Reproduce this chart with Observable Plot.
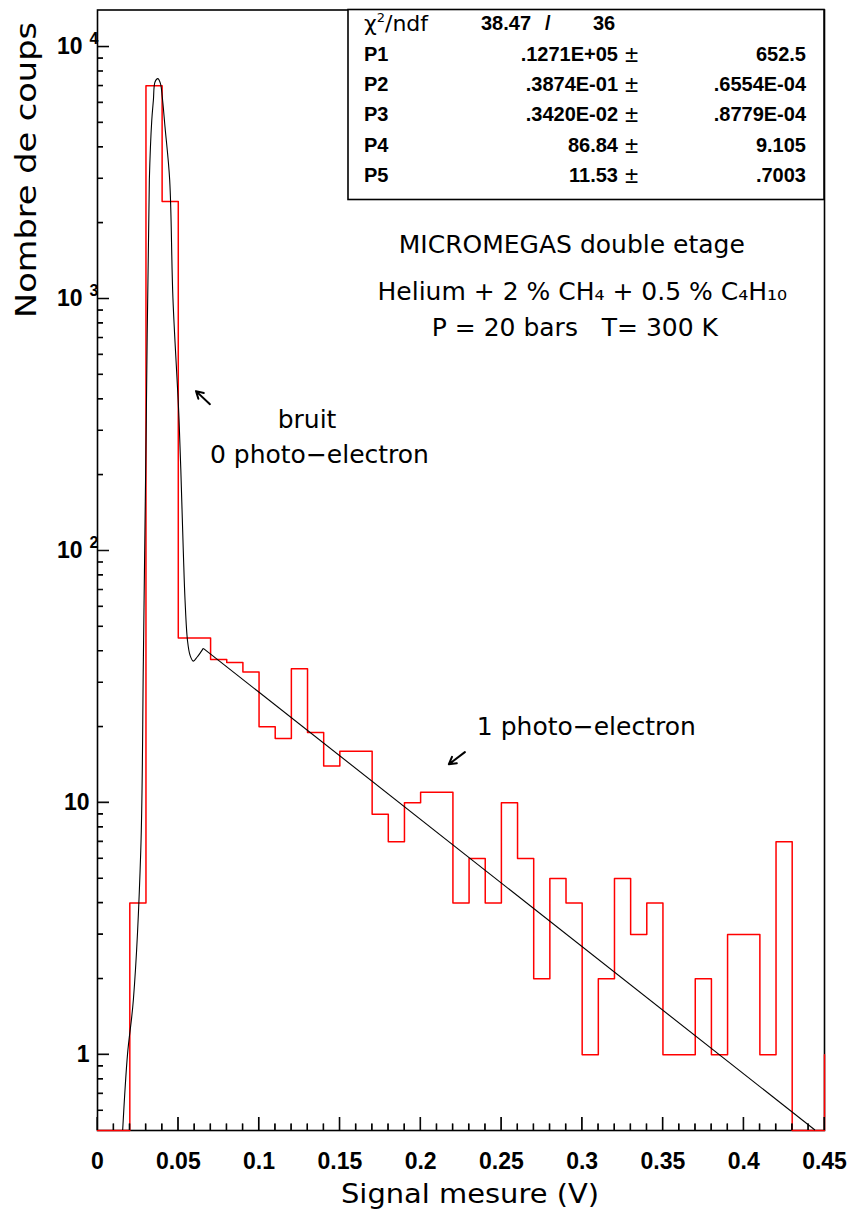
<!DOCTYPE html>
<html><head><meta charset="utf-8">
<script src="https://cdn.jsdelivr.net/npm/d3@7"></script>
<script src="https://cdn.jsdelivr.net/npm/@observablehq/plot@0.6"></script>
<style>body{margin:0;background:#fff} svg{display:block}</style>
</head><body><div id="chart"></div>
<script>
// ---- data ----
const binLow = [0.00,0.01,0.02,0.03,0.04,0.05,0.06,0.07,0.08,0.09,
                0.10,0.11,0.12,0.13,0.14,0.15,0.16,0.17,0.18,0.19,
                0.20,0.21,0.22,0.23,0.24,0.25,0.26,0.27,0.28,0.29,
                0.30,0.31,0.32,0.33,0.34,0.35,0.36,0.37,0.38,0.39,
                0.40,0.41,0.42,0.43,0.44,0.45];
const counts = [0,0,4,7000,2430,45,45,37,36,33,
                20,18,34,19,14,16,16,9,7,10,
                11,11,4,6,4,10,6,2,5,4,
                1,2,5,3,4,1,1,2,1,3,
                3,1,7,0,0,1];
// fitted curve, points
const fitX = [0.0159,0.0189,0.0225,0.0271,0.0287,0.0305,0.0324,0.0339,0.0349,0.0359,0.0376,0.0392,0.0404,0.0421,0.0450,0.0470,0.0508,0.0534,0.0545,0.0560,0.0576,0.0596,0.0619,0.0658,0.4444];
const fitY = [0.5,1.0,1.64,6.45,36.6,328,2940,5085,6106,7215,7442,7148,6293,4784,2940,1000,328,100,63.3,43.9,38.3,36.3,37.6,40.8,0.5];
// axis ticks
const xMajor = [0,0.05,0.1,0.15,0.2,0.25,0.3,0.35,0.4,0.45];
const xMinor = [0.01,0.02,0.03,0.04,0.06,0.07,0.08,0.09,0.11,0.12,0.13,0.14,0.16,0.17,0.18,0.19,0.21,0.22,0.23,0.24,0.26,0.27,0.28,0.29,0.31,0.32,0.33,0.34,0.36,0.37,0.38,0.39,0.41,0.42,0.43,0.44];
const yMajor = [1,10,100,1000,10000];
const yMinor = [0.6,0.7,0.8,0.9,2,3,4,5,6,7,8,9,20,30,40,50,60,70,80,90,200,300,400,500,600,700,800,900,2000,3000,4000,5000,6000,7000,8000,9000];
const yDomain = [0.5, 14000];
// annotations
const annoText = ["MICROMEGAS double etage","Helium + 2 % CH₄ + 0.5 % C₄H₁₀","P = 20 bars   T= 300 K","bruit","0 photo−electron","1 photo−electron"];
const annoX = [0.2939,0.3004,0.2958,0.130,0.1377,0.3029];
const annoY = [1623,1056,760,328,238,19.85];
const arrowX1 = [0.0699,0.2277], arrowY1 = [380,15.8];
const arrowX2 = [0.0613,0.2178], arrowY2 = [428,14.15];
// fit statistics
const chi2 = "38.47", ndf = "36";
const statLabels = ["P1","P2","P3","P4","P5"];
const statValues = [".1271E+05",".3874E-01",".3420E-02","86.84","11.53"];
const statErrors = ["652.5",".6554E-04",".8779E-04","9.105",".7003"];

// ---- build ----
const hist = binLow.map((x,i)=>({x, y: Math.max(counts[i], yDomain[0])}));
const tickFont = {fontFamily:"Liberation Sans, Arial, sans-serif", fontWeight:"bold", fontSize:23};

const svg = Plot.plot({
  width: 850, height: 1213,
  marginLeft: 97, marginRight: 26, marginTop: 9.5, marginBottom: 83,
  style: {background:"white", fontFamily:"Liberation Sans, Arial, sans-serif"},
  x: {domain:[0,0.45], label:null},
  y: {type:"log", domain:yDomain, label:null},
  marks: [
    Plot.frame({stroke:"black", strokeWidth:1.6}),
    Plot.line(hist, {x:"x", y:"y", curve:"step-after", stroke:"#ff0000", strokeWidth:1.5}),
    Plot.axisX({ticks:xMinor, tickSize:-6.5, stroke:"black", tickFormat:()=>"", label:null}),
    Plot.axisX({ticks:xMajor, tickSize:-13, stroke:"black", tickPadding:35, tickFormat:d=>String(d), label:null, ...tickFont}),
    Plot.axisY({ticks:yMinor, tickSize:-6, stroke:"black", tickFormat:()=>"", label:null}),
    Plot.axisY({ticks:yMajor, tickSize:-12, stroke:"black", tickPadding:20, label:null,
      tickFormat:d=> d>=100 ? "10^"+Math.round(Math.log10(d)) : String(d), ...tickFont})
  ]
});

const s = d3.select(svg);
const sx = svg.scale("x"), sy = svg.scale("y");
const X = v => sx.apply(v), Y = v => sy.apply(v);
const fx0 = sx.range[0], fy0 = sy.range[0];

// fitted curve through Plot's scales
const fitPts = fitX.map((x,i)=>[X(x), Y(fitY[i])]);
const nF = fitPts.length;
s.append("path").attr("d", d3.line().curve(d3.curveCatmullRom)(fitPts.slice(0, nF-1)))
  .attr("fill","none").attr("stroke","black").attr("stroke-width",1.1);
s.append("path").attr("d", d3.line()(fitPts.slice(nF-2)))
  .attr("fill","none").attr("stroke","black").attr("stroke-width",1.1);

// annotation texts
annoText.forEach((t,i)=>{
  s.append("text").attr("x",X(annoX[i])).attr("y",Y(annoY[i])).attr("dy","0.32em")
    .attr("text-anchor","middle").attr("font-family","DejaVu Sans, sans-serif")
    .attr("font-size",25).attr("fill","black").text(t);
});
// arrows
arrowX1.forEach((x,i)=>{
  const ax = X(x), ay = Y(arrowY1[i]), bx = X(arrowX2[i]), by = Y(arrowY2[i]);
  const ang = Math.atan2(by-ay, bx-ax), L = 8, w = Math.PI/6;
  const w1 = [bx - L*Math.cos(ang-w), by - L*Math.sin(ang-w)];
  const w2 = [bx - L*Math.cos(ang+w), by - L*Math.sin(ang+w)];
  s.append("path").attr("d",`M${ax},${ay}L${bx},${by}M${w1[0]},${w1[1]}L${bx},${by}L${w2[0]},${w2[1]}`)
    .attr("fill","none").attr("stroke","black").attr("stroke-width",2)
    .attr("stroke-linecap","round").attr("stroke-linejoin","round");
});

// superscripts on y tick labels
s.selectAll('g[aria-label="y-axis tick label"] text').each(function(){
  const t = this.textContent;
  if (t.includes("^")) {
    const [b, e] = t.split("^");
    this.textContent = b;
    d3.select(this).append("tspan").attr("dx", 7).attr("dy", -10).attr("font-size", 16).text(e);
    const tr = this.getAttribute("transform") || "";
    this.setAttribute("transform", tr + " translate(9,0)");
  }
});

// axis titles
s.append("text").attr("x", 470).attr("y", 1203).attr("text-anchor","middle")
  .attr("font-family","DejaVu Sans, sans-serif").attr("font-size",26).attr("fill","black")
  .attr("textLength",258).attr("lengthAdjust","spacingAndGlyphs")
  .text("Signal mesure (V)");
s.append("text").attr("transform","translate(36,170) rotate(-90)").attr("text-anchor","middle")
  .attr("font-family","DejaVu Sans, sans-serif").attr("font-size",28).attr("fill","black")
  .attr("textLength",296).attr("lengthAdjust","spacingAndGlyphs")
  .text("Nombre de coups");

// stats box
const box = s.append("g");
box.append("rect").attr("x",348).attr("y",9.5).attr("width",476).attr("height",190)
  .attr("fill","white").attr("stroke","black").attr("stroke-width",1.6);
const bold = {"font-family":"Liberation Sans, Arial, sans-serif","font-weight":"bold","font-size":20,"fill":"black"};
function txt(x,y,anchor,str,attrs){
  const t = box.append("text").attr("x",x).attr("y",y).attr("text-anchor",anchor).text(str);
  for (const k in attrs) t.attr(k, attrs[k]);
  return t;
}
const chiT = box.append("text").attr("x",364).attr("y",31).attr("text-anchor","start")
  .attr("font-family","DejaVu Sans, sans-serif").attr("font-size",22).attr("fill","black");
chiT.append("tspan").text("χ");
chiT.append("tspan").attr("dy",-9).attr("font-size",13).text("2");
chiT.append("tspan").attr("dy",9).text("/ndf");
txt(481,30,"start",chi2,bold);
txt(545,30,"start","/",bold);
txt(593,30,"start",ndf,bold);
const rowY = [61,91,121,152,182];
statLabels.forEach((l,i)=>{
  txt(364,rowY[i],"start",l,bold);
  txt(618,rowY[i],"end",statValues[i],bold);
  txt(625,rowY[i]+1,"start","±",Object.assign({},bold,{"font-size":24,"font-weight":"normal"}));
  txt(806,rowY[i],"end",statErrors[i],bold);
});

// inward tick marks as single stroked paths (stroke on the path itself), drawn last
let dx = "";
xMinor.forEach(v=>{ dx += `M${X(v)},${fy0}V${fy0-6.5}`; });
xMajor.forEach(v=>{ dx += `M${X(v)},${fy0}V${fy0-13}`; });
let dy = "";
yMinor.forEach(v=>{ dy += `M${fx0},${Y(v)}H${fx0+6}`; });
yMajor.forEach(v=>{ dy += `M${fx0},${Y(v)}H${fx0+12}`; });
s.append("path").attr("d", dx).attr("fill","none").attr("stroke","black").attr("stroke-width",1.2);
s.append("path").attr("d", dy).attr("fill","none").attr("stroke","black").attr("stroke-width",1.2);

document.getElementById("chart").appendChild(svg);
</script>
</body></html>
